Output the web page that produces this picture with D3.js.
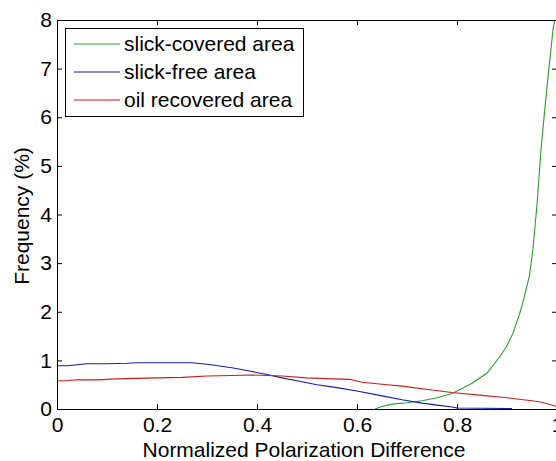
<!DOCTYPE html>
<html>
<head>
<meta charset="utf-8">
<script src="https://cdn.jsdelivr.net/npm/d3@7"></script>
<style>
  body { margin: 0; background: #fff; }
  svg { display: block; font-family: "Liberation Sans", Arial, sans-serif; }
</style>
</head>
<body>
<svg id="chart" width="556" height="461"></svg>
<script>
// values: [normalized polarization difference, frequency %]
const slickCovered = [[0.636,0],[0.65,0.05],[0.67,0.1],[0.7,0.13],[0.73,0.17],[0.76,0.23],[0.79,0.32],
  [0.81,0.42],[0.83,0.53],[0.86,0.74],[0.886,1.08],[0.9,1.3],[0.912,1.56],[0.925,1.95],[0.933,2.24],
  [0.945,2.75],[0.952,3.3],[0.96,4.2],[0.968,5.33],[0.975,6.1],[0.982,6.83],[0.992,7.8],[0.997,8.1]];
const slickFree = [[0,0.89],[0.02,0.89],[0.04,0.91],[0.06,0.93],[0.1,0.93],[0.14,0.94],[0.16,0.95],
  [0.2,0.95],[0.27,0.95],[0.3,0.92],[0.35,0.85],[0.39,0.77],[0.42,0.71],[0.45,0.64],[0.48,0.58],
  [0.52,0.5],[0.56,0.44],[0.6,0.37],[0.65,0.27],[0.69,0.19],[0.73,0.12],[0.76,0.08],[0.79,0.04],
  [0.8,0.02],[0.85,0.015],[0.91,0.01]];
const oilRecovered = [[0,0.58],[0.02,0.58],[0.04,0.6],[0.08,0.6],[0.12,0.62],[0.16,0.63],[0.2,0.64],
  [0.25,0.65],[0.3,0.68],[0.35,0.69],[0.39,0.7],[0.45,0.68],[0.5,0.64],[0.55,0.62],[0.585,0.61],
  [0.61,0.55],[0.65,0.51],[0.69,0.47],[0.75,0.39],[0.79,0.34],[0.85,0.28],[0.9,0.23],[0.95,0.17],
  [0.97,0.14],[1.0,0.05]];

const seriesNames = ['slick-covered area', 'slick-free area', 'oil recovered area'];
const seriesColors = ['#2a9e2a', '#1818b0', '#c81e1e'];
const xTicks = [0, 0.2, 0.4, 0.6, 0.8, 1];
const yTicks = [0, 1, 2, 3, 4, 5, 6, 7, 8];

const svg = d3.select('#chart'),
  margin = {left: 57, top: 20},
  width = 500,
  height = 389;

const x = d3.scaleLinear().domain([0, 1]).range([margin.left, margin.left + width]);
const y = d3.scaleLinear().domain([0, 8]).range([margin.top + height, margin.top]);

svg.append('defs').append('clipPath').attr('id', 'clip')
  .append('rect').attr('x', margin.left).attr('y', margin.top)
  .attr('width', width).attr('height', height);

// curves
const line = d3.line().x(d => x(d[0])).y(d => y(d[1]));
[slickCovered, slickFree, oilRecovered].forEach(function(data, i) {
  svg.append('path')
    .datum(data)
    .attr('clip-path', 'url(#clip)')
    .attr('fill', 'none')
    .attr('stroke', seriesColors[i])
    .attr('stroke-width', 1.1)
    .attr('d', line);
});

// axes (box with inward ticks)
const axisStyle = function(g) {
  g.select('.domain').attr('stroke', '#000');
  g.selectAll('.tick line').attr('stroke', '#000');
};
svg.append('g')
  .attr('transform', 'translate(0,' + (margin.top + height) + ')')
  .call(d3.axisBottom(x).tickValues(xTicks).tickSize(-5).tickSizeOuter(0).tickPadding(8)
    .tickFormat(d3.format('')))
  .call(axisStyle)
  .call(g => g.selectAll('text').attr('font-size', 21).attr('fill', '#000'));
svg.append('g')
  .attr('transform', 'translate(0,' + margin.top + ')')
  .call(d3.axisTop(x).tickValues(xTicks).tickSize(-5).tickSizeOuter(0).tickFormat(''))
  .call(axisStyle);
svg.append('g')
  .attr('transform', 'translate(' + margin.left + ',0)')
  .call(d3.axisLeft(y).tickValues(yTicks).tickSize(-5).tickSizeOuter(0).tickPadding(5))
  .call(axisStyle)
  .call(g => g.selectAll('text').attr('font-size', 21).attr('fill', '#000'));
svg.append('g')
  .attr('transform', 'translate(' + (margin.left + width) + ',0)')
  .call(d3.axisRight(y).tickValues(yTicks).tickSize(-5).tickSizeOuter(0).tickFormat(''))
  .call(axisStyle);

// axis titles
svg.append('text')
  .attr('x', 304)
  .attr('y', 457)
  .attr('text-anchor', 'middle')
  .attr('font-size', 21)
  .text('Normalized Polarization Difference');
svg.append('text')
  .attr('transform', 'translate(29,216) rotate(-90)')
  .attr('text-anchor', 'middle')
  .attr('font-size', 21)
  .text('Frequency (%)');

// legend
const legend = svg.append('g');
legend.append('rect')
  .attr('x', 65.5).attr('y', 28.5)
  .attr('width', 238).attr('height', 88)
  .attr('fill', '#fff').attr('stroke', '#000');
seriesNames.forEach(function(name, i) {
  const ly = 44 + i * 28;
  legend.append('line')
    .attr('x1', 74).attr('x2', 120).attr('y1', ly).attr('y2', ly)
    .attr('stroke', seriesColors[i]).attr('stroke-width', 1.1);
  legend.append('text')
    .attr('x', 124).attr('y', ly + 7)
    .attr('font-size', 21)
    .text(name);
});
</script>
</body>
</html>
